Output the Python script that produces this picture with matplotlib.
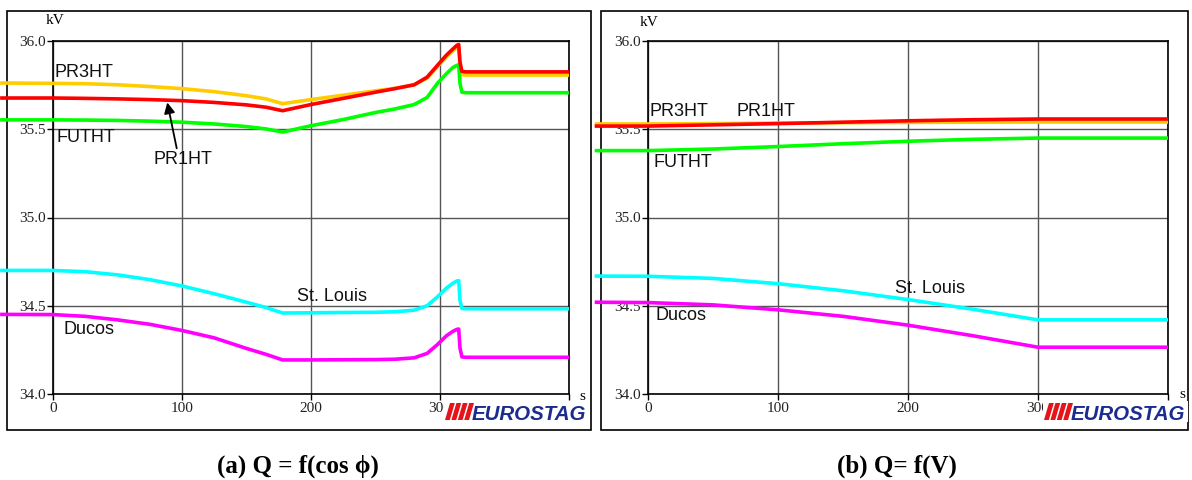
import matplotlib
matplotlib.use("Agg")
import matplotlib.pyplot as plt
from matplotlib.patches import Rectangle, Polygon

W, H = 1192, 480

# ---------------- data ----------------
# Panel (a): Q = f(cos phi)
t_a = [-41, 0, 25, 50, 75, 100, 125, 150, 165, 178, 200, 225, 250, 265, 280,
       290, 298, 305, 310, 313, 314.5, 315.5, 317, 320, 400]
pr3ht_a = [35.762, 35.760, 35.758, 35.752, 35.742, 35.730, 35.713, 35.690, 35.672, 35.645,
           35.668, 35.693, 35.718, 35.732, 35.752, 35.790, 35.855, 35.910, 35.945, 35.962,
           35.965, 35.860, 35.810, 35.807, 35.807]
pr1ht_a = [35.677, 35.677, 35.675, 35.672, 35.668, 35.662, 35.652, 35.638, 35.625, 35.605,
           35.640, 35.675, 35.710, 35.730, 35.752, 35.795, 35.862, 35.920, 35.955, 35.975,
           35.980, 35.880, 35.828, 35.825, 35.825]
futht_a = [35.553, 35.553, 35.552, 35.550, 35.546, 35.540, 35.530, 35.515, 35.502, 35.484,
           35.520, 35.555, 35.595, 35.615, 35.640, 35.680, 35.760, 35.815, 35.850, 35.862,
           35.865, 35.760, 35.710, 35.707, 35.707]
stlouis_a = [34.700, 34.700, 34.693, 34.675, 34.648, 34.612, 34.568, 34.520, 34.490, 34.459,
             34.460, 34.462, 34.463, 34.466, 34.475, 34.500, 34.550, 34.600, 34.627, 34.640,
             34.642, 34.530, 34.485, 34.483, 34.483]
ducos_a = [34.451, 34.450, 34.440, 34.420, 34.395, 34.360, 34.318, 34.258, 34.225, 34.193,
           34.193, 34.194, 34.195, 34.197, 34.205, 34.230, 34.280, 34.330, 34.355, 34.366,
           34.368, 34.260, 34.210, 34.208, 34.208]

# Panel (b): Q = f(V)
t_b = [-41, 0, 50, 100, 150, 200, 250, 300, 400]
pr3ht_b = [35.530, 35.530, 35.532, 35.535, 35.537, 35.539, 35.540, 35.541, 35.541]
pr1ht_b = [35.518, 35.518, 35.525, 35.532, 35.540, 35.548, 35.554, 35.558, 35.558]
futht_b = [35.379, 35.379, 35.388, 35.402, 35.418, 35.432, 35.443, 35.450, 35.450]
stlouis_b = [34.668, 34.667, 34.655, 34.625, 34.585, 34.535, 34.480, 34.420, 34.420]
ducos_b = [34.520, 34.518, 34.505, 34.477, 34.440, 34.390, 34.330, 34.265, 34.265]

x_ticks = [0, 100, 200, 300, 400]
y_ticks = [34.0, 34.5, 35.0, 35.5, 36.0]
y_ticklabels = ["34.0", "34.5", "35.0", "35.5", "36.0"]
x_ticklabels = ["0", "100", "200", "300", ""]   # 400 hidden behind the logo

colors = {"PR3HT": "#FFCC00", "PR1HT": "#FF0000", "FUTHT": "#00FF00",
          "St. Louis": "#00FFFF", "Ducos": "#FF00FF"}

captions = ["(a) Q = f(cos \u03d5)", "(b) Q= f(V)"]

# ---------------- figure ----------------
fig = plt.figure(figsize=(11.92, 4.8), dpi=100)


def fx(x):
    return x / W


def fy(y):
    return 1 - y / H


def add_frame(x0, y0, x1, y1):
    fig.patches.append(Rectangle((fx(x0), fy(y1)), (x1 - x0) / W, (y1 - y0) / H,
                                 transform=fig.transFigure, fill=False,
                                 ec="black", lw=1.2, zorder=-1))


def add_logo(x0):
    fig.patches.append(Rectangle((fx(x0 - 1), fy(422)), 145 / W, 21 / H,
                                 transform=fig.transFigure, fc="white", ec="none", zorder=5))
    for i in range(4):
        bx = x0 + i * 6.4
        pts = [(bx, 420), (bx + 4.8, 420), (bx + 9.8, 403), (bx + 5.0, 403)]
        fig.patches.append(Polygon([(fx(px), fy(py)) for px, py in pts], closed=True,
                                   transform=fig.transFigure, fc="#E5141B", ec="none", zorder=6))
    fig.text(fx(x0 + 27), fy(420), "EUROSTAG", fontsize=14.8, fontweight="bold",
             fontstyle="italic", family="Liberation Sans", color="#1B2C8E",
             ha="left", va="baseline", zorder=7)


def make_panel(x0, x1, t, series, labels, arrow=None):
    ax = fig.add_axes([fx(x0), fy(394), (x1 - x0) / W, 353 / H])
    ax.set_xlim(0, 400)
    ax.set_ylim(34.0, 36.0)
    ax.set_xticks(x_ticks)
    ax.set_xticklabels(x_ticklabels)
    ax.set_yticks(y_ticks)
    ax.set_yticklabels(y_ticklabels)
    for lab in ax.get_xticklabels() + ax.get_yticklabels():
        lab.set_family("Liberation Serif")
        lab.set_fontsize(11)
    ax.tick_params(axis="both", direction="out", length=4, width=1, pad=1.5, colors="black",
                   labelcolor="#222222")
    ax.grid(True, color="#555555", lw=1.0)
    ax.set_axisbelow(True)
    for sp in ax.spines.values():
        sp.set_color("black")
        sp.set_linewidth(1.2)
    ax.patch.set_alpha(0)
    for name, vals in series:
        ax.plot(t, vals, color=colors[name], lw=2.6, clip_on=False, zorder=3,
                solid_capstyle="butt")
    for text, tx, ty in labels:
        ax.text(tx, ty, text, fontsize=13, family="Liberation Sans", ha="left",
                va="center", color="#111111", zorder=4)
    if arrow is not None:
        (hx, hy), (tx, ty) = arrow
        ax.annotate("", xy=(hx, hy), xytext=(tx, ty),
                    arrowprops=dict(arrowstyle="-|>", color="black", lw=1.3,
                                    mutation_scale=16, shrinkA=0, shrinkB=0), zorder=4)
    return ax


# Panel (a)
add_frame(7, 11, 591, 430)
series_a = [("PR3HT", pr3ht_a), ("FUTHT", futht_a), ("PR1HT", pr1ht_a),
            ("St. Louis", stlouis_a), ("Ducos", ducos_a)]
labels_a = [("PR3HT", 1, 35.822), ("FUTHT", 3, 35.456), ("PR1HT", 78, 35.331),
            ("St. Louis", 189, 34.555), ("Ducos", 8, 34.365)]
make_panel(53, 569, t_a, series_a, labels_a, arrow=((88.6, 35.652), (95.9, 35.392)))
fig.text(fx(55), fy(21), "kV", fontsize=11, family="Liberation Serif", ha="center", va="center")
fig.text(fx(582), fy(396), "s", fontsize=11, family="Liberation Serif", ha="center", va="center")
add_logo(445)

# Panel (b)
add_frame(601, 11, 1188, 430)
series_b = [("PR3HT", pr3ht_b), ("PR1HT", pr1ht_b), ("FUTHT", futht_b),
            ("St. Louis", stlouis_b), ("Ducos", ducos_b)]
labels_b = [("PR3HT", 1.5, 35.598), ("PR1HT", 68, 35.598), ("FUTHT", 4, 35.309),
            ("St. Louis", 190, 34.595), ("Ducos", 6, 34.442)]
make_panel(648, 1168, t_b, series_b, labels_b)
fig.text(fx(649), fy(22), "kV", fontsize=11, family="Liberation Serif", ha="center", va="center")
fig.text(fx(1182), fy(395), "s", fontsize=11, family="Liberation Serif", ha="center", va="center")
add_logo(1044)

# captions
fig.text(fx(298), fy(466), captions[0], fontsize=18, fontweight="bold",
         family=["Liberation Serif", "DejaVu Serif"], ha="center", va="center")
fig.text(fx(897), fy(466), captions[1], fontsize=18, fontweight="bold",
         family=["Liberation Serif", "DejaVu Serif"], ha="center", va="center")

fig.savefig("out.png", dpi=100)
